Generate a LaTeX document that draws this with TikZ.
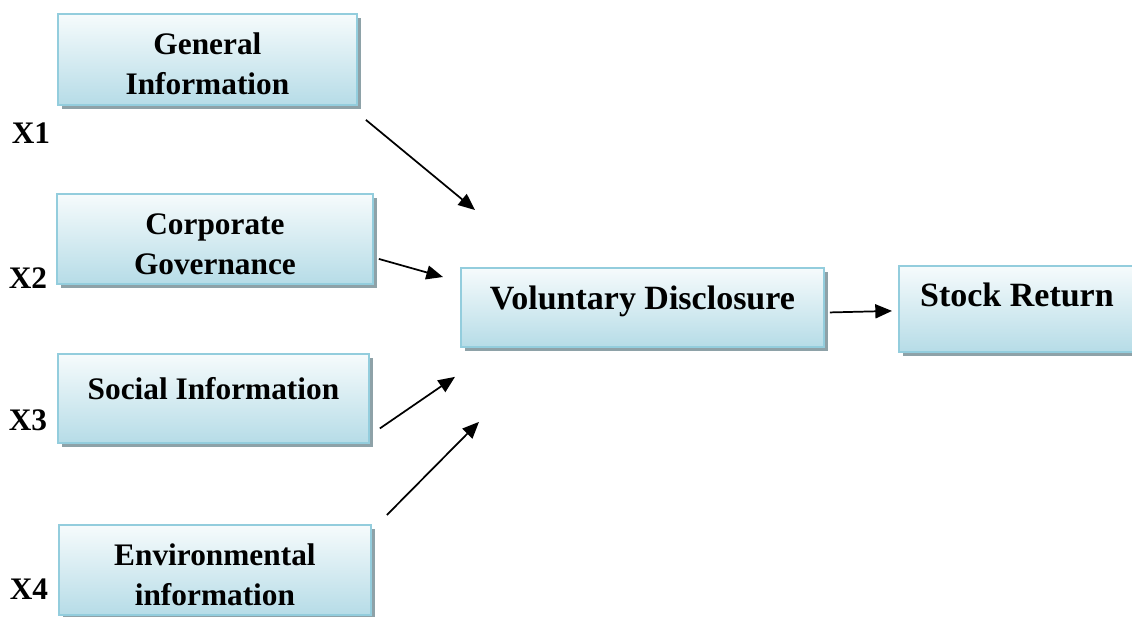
\documentclass[tikz,border=0pt]{standalone}
\usepackage{fontspec}
\setmainfont{Liberation Serif}
\usetikzlibrary{calc,arrows.meta,shadows}
\definecolor{boxline}{HTML}{93CDDD}
\definecolor{boxtop}{HTML}{F6FBFC}
\definecolor{boxbottom}{HTML}{B6DCE7}
\definecolor{boxshadow}{HTML}{8EA2A8}

\begin{document}
\begin{tikzpicture}[x=0.75pt, y=-0.75pt,
  box/.style={draw=boxline, line width=1.4pt, top color=boxtop, bottom color=boxbottom,
    anchor=north west, inner sep=0pt,
    drop shadow={shadow xshift=2.8pt, shadow yshift=-2.8pt, fill=boxshadow, opacity=1}},
  boxtext/.style={font=\fontsize{23.5}{30}\selectfont\bfseries, align=center, inner sep=0pt, anchor=north},
  bigtext/.style={boxtext, font=\fontsize{25.5}{30}\selectfont\bfseries},
  xlabel/.style={font=\fontsize{23.5}{30}\selectfont\bfseries, inner sep=0pt},
  link/.style={-{Triangle[length=12.5pt,width=10.5pt]}, line width=1.3pt}]
 \useasboundingbox (0,0) rectangle (1132,617);
 % independent variables
 \node[box, minimum width=224.25pt, minimum height=68.25pt,
   label={[boxtext, yshift=-14.25pt]north:General\\Information}] (gi) at (57,13) {};
 \node[box, minimum width=237pt, minimum height=67.5pt,
   label={[boxtext, yshift=-15pt]north:Corporate\\Governance}] (cg) at (56,193) {};
 \node[box, minimum width=233.25pt, minimum height=66.75pt,
   label={[boxtext, yshift=-18pt]north:Social Information}] (si) at (57,353) {};
 \node[box, minimum width=234pt, minimum height=67.5pt,
   label={[boxtext, yshift=-14.25pt]north:Environmental\\information}] (ei) at (58,524) {};
 \node[xlabel] (x1) at (31,133) {X1};
 \node[xlabel] (x2) at (28,278) {X2};
 \node[xlabel] (x3) at (28,420) {X3};
 \node[xlabel] (x4) at (29,589) {X4};
 % mediator and outcome
 \node[box, minimum width=272.25pt, minimum height=59.25pt,
   label={[bigtext, yshift=-14pt]north:Voluntary Disclosure}] (vd) at (460,267) {};
 \node[box, minimum width=177pt, minimum height=64.5pt,
   label={[bigtext, yshift=-13pt]north:Stock Return}] (sr) at (898,265) {};
 \draw[link] ($(gi.south east)+(8,14)$) -- ($(vd.north west)+(15,-57)$);
 \draw[link] ($(cg.east)+(5,20)$) -- ($(vd.north west)+(-17,10)$);
 \draw[link] ($(si.east)+(10,30)$) -- ($(vd.south west)+(-5,29)$);
 \draw[link] ($(ei.north east)+(15,-9)$) -- ($(vd.south west)+(19,74)$);
 \draw[link] ($(vd.east)+(5,5)$) -- ($(sr.west)+(-6,2)$);
\end{tikzpicture}
\end{document}
